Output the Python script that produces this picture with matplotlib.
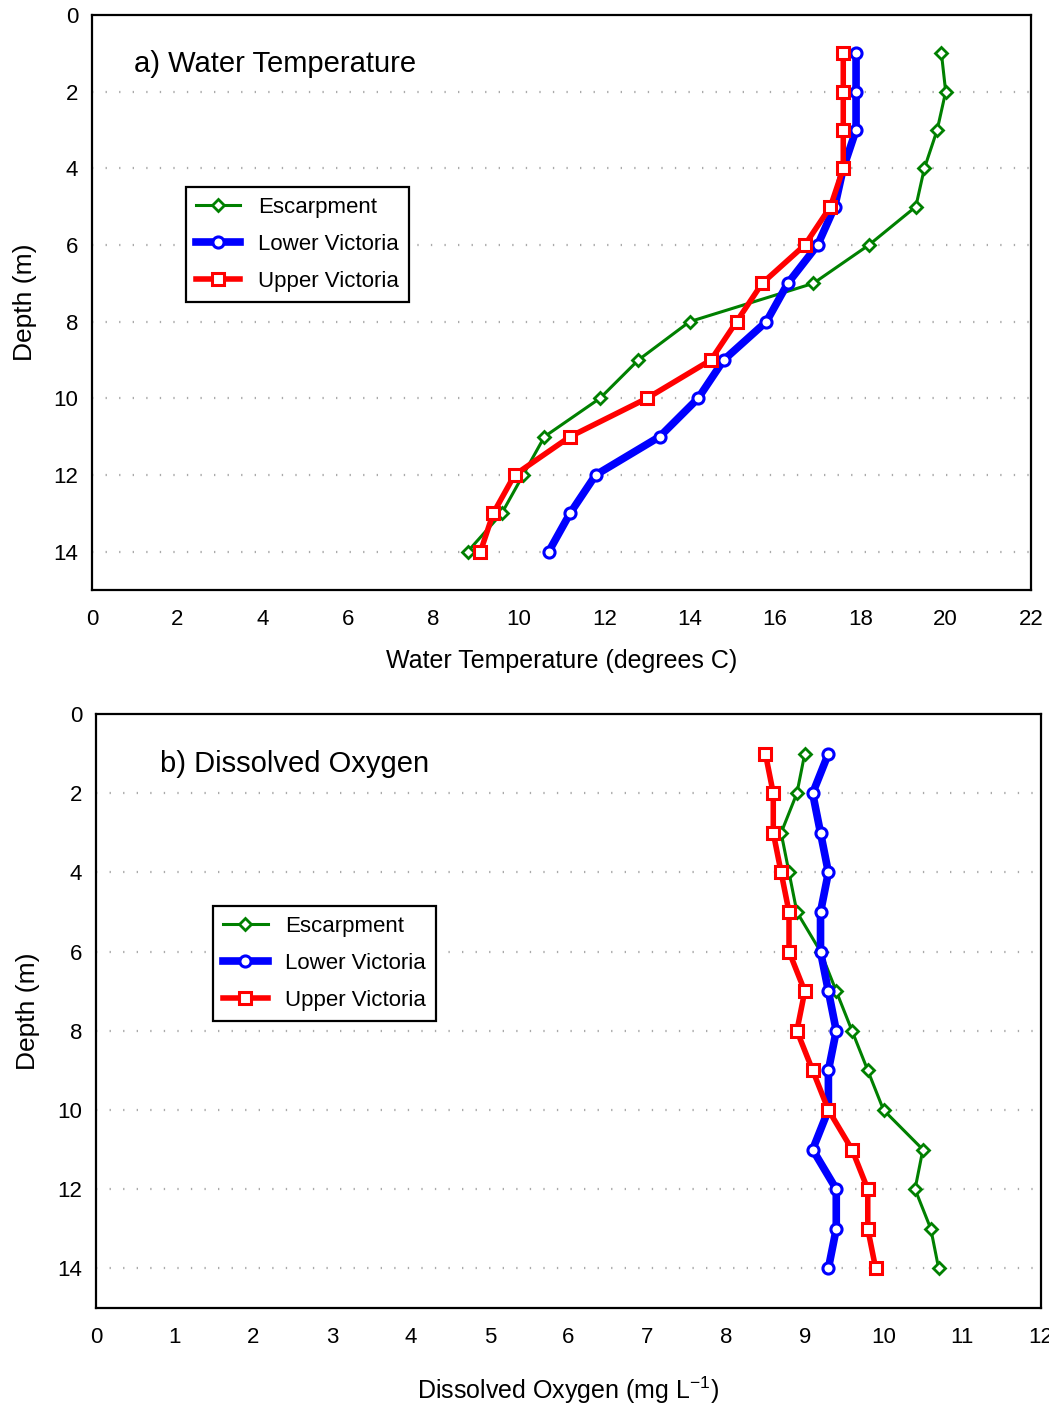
import matplotlib.pyplot as plt
import numpy as np

plt.rcParams['font.family'] = ['Liberation Sans', 'DejaVu Sans']
plt.rcParams['mathtext.default'] = 'regular'

depth = [1, 2, 3, 4, 5, 6, 7, 8, 9, 10, 11, 12, 13, 14]

# water temperature (degrees C)
temp_escarpment = [19.9, 20.0, 19.8, 19.5, 19.3, 18.2, 16.9, 14.0, 12.8, 11.9, 10.6, 10.1, 9.6, 8.8]
temp_lower = [17.9, 17.9, 17.9, 17.6, 17.4, 17.0, 16.3, 15.8, 14.8, 14.2, 13.3, 11.8, 11.2, 10.7]
temp_upper = [17.6, 17.6, 17.6, 17.6, 17.3, 16.7, 15.7, 15.1, 14.5, 13.0, 11.2, 9.9, 9.4, 9.1]

# dissolved oxygen (mg/L)
do_escarpment = [9.0, 8.9, 8.7, 8.8, 8.9, 9.2, 9.4, 9.6, 9.8, 10.0, 10.5, 10.4, 10.6, 10.7]
do_lower = [9.3, 9.1, 9.2, 9.3, 9.2, 9.2, 9.3, 9.4, 9.3, 9.3, 9.1, 9.4, 9.4, 9.3]
do_upper = [8.5, 8.6, 8.6, 8.7, 8.8, 8.8, 9.0, 8.9, 9.1, 9.3, 9.6, 9.8, 9.8, 9.9]

series_names = ['Escarpment', 'Lower Victoria', 'Upper Victoria']
styles = [
    dict(color='#008000', lw=2.2, marker='D', ms=6.5, mew=2.0),
    dict(color='#0000ff', lw=5.5, marker='o', ms=8, mew=2.2),
    dict(color='#ff0000', lw=4.0, marker='s', ms=8, mew=2.2),
]


def draw_panel(ax, xs, xmax, xstep, title, xlabel, title_pos, legend_pos, xlabel_y):
    for vals, name, st in zip(xs, series_names, styles):
        ax.plot(vals, depth, label=name, mfc='white', mec=st['color'], **st)
    ax.set_ylim(15, 0)
    ax.set_xlim(0, xmax)
    ax.set_yticks(np.arange(0, 15, 2))
    ax.set_xticks(np.arange(0, xmax + 0.1, xstep))
    for d in range(2, 15, 2):
        ax.axhline(d, color='#aaaaaa', lw=1.6, ls=(0, (0.6, 5.5)), zorder=0)
    ax.tick_params(length=0, labelsize=16)
    ax.tick_params(axis='x', pad=14)
    ax.tick_params(axis='y', pad=10)
    for sp in ax.spines.values():
        sp.set_linewidth(1.6)
    ax.text(title_pos[0], title_pos[1], title, transform=ax.transAxes, fontsize=21, va='center')
    leg = ax.legend(loc='upper left', bbox_to_anchor=legend_pos, borderaxespad=0, fontsize=16,
                    fancybox=False, framealpha=1, edgecolor='black', handlelength=2.0,
                    labelspacing=0.72, borderpad=0.45, handletextpad=0.8)
    leg.get_frame().set_linewidth(1.6)
    ax.set_ylabel('Depth (m)', fontsize=19)
    ax.yaxis.set_label_coords(-0.059, 0.5)
    ax.set_xlabel(xlabel, fontsize=18)
    ax.xaxis.set_label_coords(0.5, xlabel_y)


fig = plt.figure(figsize=(10.49, 14.07), dpi=100)
ax1 = fig.add_axes([0.0877, 0.5807, 0.8952, 0.4086])
ax2 = fig.add_axes([0.0915, 0.0704, 0.9009, 0.4221])

draw_panel(ax1, [temp_escarpment, temp_lower, temp_upper], 22, 2,
           'a) Water Temperature', 'Water Temperature (degrees C)',
           (0.045, 0.914), (0.100, 0.701), -0.102)
draw_panel(ax2, [do_escarpment, do_lower, do_upper], 12, 1,
           'b) Dissolved Oxygen', 'Dissolved Oxygen (mg L$^{-1}$)',
           (0.068, 0.916), (0.124, 0.677), -0.112)

fig.savefig('out.png', dpi=100)
